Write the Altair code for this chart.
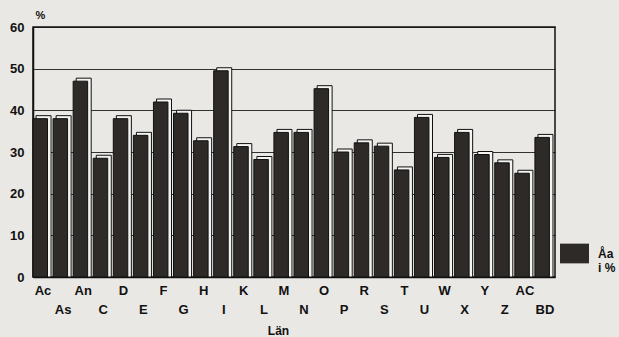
import altair as alt
import pandas as pd

lan = ["Ac", "As", "An", "C", "D", "E", "F", "G", "H", "I", "K", "L", "M",
       "N", "O", "P", "R", "S", "T", "U", "W", "X", "Y", "Z", "AC", "BD"]
andel = [38, 38, 47, 28.5, 38, 34, 42, 39.3, 32.7, 49.5, 31.3, 28.2, 34.7,
         34.7, 45.2, 30, 32.2, 31.4, 25.7, 38.3, 28.7, 34.7, 29.4, 27.4, 24.9, 33.5]
serie = "Åa i %"
lower_row = lan[1::2]

df = pd.DataFrame({"lan": lan, "andel": andel, "serie": [serie] * len(lan)})

bg = "#e9e8e5"
dark = "#2d2a28"
font = "Liberation Sans"

odd_list = "[" + ",".join("'%s'" % s for s in lower_row) + "]"

x = alt.X("lan:N", sort=lan,
          scale=alt.Scale(paddingInner=0, paddingOuter=0),
          axis=alt.Axis(title="Län", labelAngle=0, ticks=False, grid=False,
                        labelExpr=f"indexof({odd_list}, datum.value) >= 0 ? ['', datum.value] : datum.value",
                        labelBaseline="top", labelLineHeight=19, labelPadding=7,
                        labelFont=font, labelFontWeight="bold", labelFontSize=13,
                        labelColor="#111", titleFont=font, titleFontWeight="bold",
                        titleFontSize=12, titleColor="#111", titleX=245, titleY=57,
                        titleBaseline="alphabetic", titleAlign="center",
                        domainColor="#111", domainWidth=1.5))

y_scale = alt.Scale(domain=[0, 60], nice=False)
y_axis = alt.Axis(title="%", values=[0, 10, 20, 30, 40, 50, 60], ticks=False,
                  grid=True, gridColor="#111", gridWidth=1, gridOpacity=0.85,
                  labelFont=font, labelFontWeight="bold", labelFontSize=13,
                  labelColor="#111", labelPadding=9,
                  titleAngle=0, titleX=2, titleY=-9, titleAlign="left",
                  titleBaseline="alphabetic", titleFont=font, titleFontWeight="bold",
                  titleFontSize=11, titleColor="#111",
                  domainColor="#111", domainWidth=1.5)

side = alt.Chart(df).mark_bar(width=15, xOffset=0.5, yOffset=-3, fill="#f4f4f2",
                              stroke="#111", strokeWidth=1).encode(
    x=x,
    y=alt.Y("andel:Q", scale=y_scale, axis=y_axis),
    y2=alt.value(250),
)

front = alt.Chart(df).mark_bar(width=14.5, xOffset=-2.8, stroke="#111",
                               strokeWidth=1).encode(
    x=x,
    y=alt.Y("andel:Q", scale=y_scale, axis=y_axis),
    color=alt.Color("serie:N", scale=alt.Scale(range=[dark]),
                    legend=alt.Legend(title=None, orient="none", legendX=527,
                                      legendY=212, padding=0,
                                      symbolType="M-1,-0.68H1V0.68H-1Z",
                                      symbolSize=840, symbolStrokeWidth=0,
                                      symbolOpacity=1,
                                      labelExpr="['Åa', 'i %']",
                                      labelFont=font, labelFontWeight="bold",
                                      labelFontSize=12, labelColor="#111",
                                      labelOffset=9)),
)

chart = alt.layer(side, front).properties(
    width=522, height=250, background=bg,
    padding={"left": 33, "top": 27, "right": 64, "bottom": 60},
    autosize=alt.AutoSizeParams(type="none"),
).configure_view(stroke="#111", strokeWidth=1.5, fill=bg)

chart.save("out.html", embed_options={"renderer": "svg", "actions": False})
